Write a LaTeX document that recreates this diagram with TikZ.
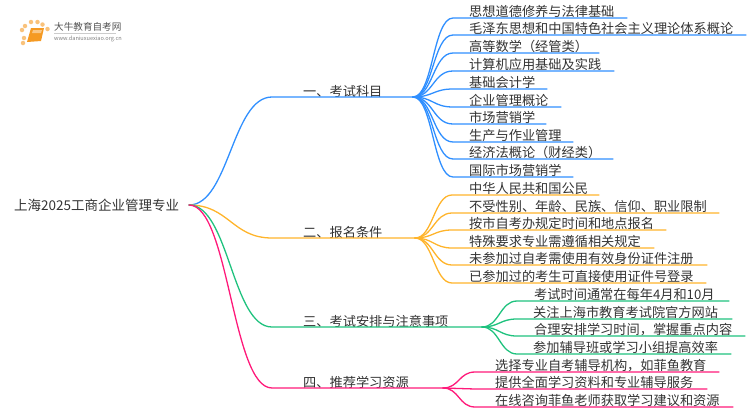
\documentclass[tikz,border=0pt]{standalone}
\usepackage{fontspec}
\setmainfont{Noto Sans CJK SC}
\definecolor{kmblue}{HTML}{2F8FFF}
\definecolor{bmorange}{HTML}{FFB42B}
\definecolor{apgreen}{HTML}{1FC27E}
\definecolor{zypink}{HTML}{FF1A7A}
\definecolor{txtgray}{HTML}{333333}
\definecolor{bookorange}{HTML}{F59A23}

\begin{document}
\begin{tikzpicture}[x=1pt,y=-1pt,
  wire/.style={line width=1.3pt,line cap=round},
  lbl/.style={anchor=west,inner sep=0pt,text=txtgray,font=\fontsize{13.2}{15}\selectfont},
  sun/.style={fill=bookorange!60,draw=none,circle,inner sep=0pt,minimum size=4.5pt}]
  \useasboundingbox (0,0) rectangle (750,410);

  % logo
  \foreach \x/\y in {25/26,31/22,37.5/22,42.5/24.5,47.5/29,22/30,24/38,23/43}
    \node[sun] at (\x,\y) {};
  \fill[bookorange] (31,28) -- (44,28) -- (41,41) -- (27,42) -- cycle;
  \fill[bookorange!55] (33,30) -- (42,30) -- (41,33) -- (32,33) -- cycle;
  \node[anchor=west,inner sep=0pt,text=txtgray!85,font=\fontsize{9.6}{11}\selectfont] (logoname) at (54,27) {大牛教育自考网};
  \node[anchor=west,inner sep=0pt,text=gray,font=\fontsize{5.6}{7}\selectfont] (logourl) at (54,38.5) {www.daniuxuexiao.org.cn};
  \draw[gray!40,line width=.6pt] (logoname.south west)++(0,1.5) -- +(62,0);

  % root
  \node[lbl,font=\fontsize{13.5}{15}\selectfont] (root) at (14,205.5) {上海2025工商企业管理专业};
  \coordinate (rootend) at (189,205);

  % branch 1
  \begin{scope}[wire/.append style={draw=kmblue}]
    \coordinate (kmin) at (272,97);
    \coordinate (kmout) at (413,97);
    \node[lbl] (km) at (303,91) {一、考试科目};
    \draw[wire] (rootend) .. controls +(40,0) and +(-40,0) .. (kmin) -- (kmout);
    \foreach \y/\xe/\t [count=\n] in {18/627/思想道德修养与法律基础,35/746/毛泽东思想和中国特色社会主义理论体系概论,53/599/高等数学（经管类）,71/614/计算机应用基础及实践,89/547/基础会计学,107/561/企业管理概论,124/546/市场营销学,142/573/生产与作业管理,159/613/经济法概论（财经类）,177/573/国际市场营销学}{
      \coordinate (kma\n) at (453,\y);
      \coordinate (kmb\n) at (\xe,\y);
      \node[lbl] (kmt\n) at (469,\y-6.5) {\t};
      \draw[wire] (kmout) .. controls +(20,0) and +(-20,0) .. (kma\n) -- (kmb\n);
    }
  \end{scope}

  % branch 2
  \begin{scope}[wire/.append style={draw=bmorange}]
    \coordinate (bmin) at (272,238);
    \coordinate (bmout) at (415,238);
    \node[lbl] (bm) at (303,232) {二、报名条件};
    \draw[wire] (rootend) .. controls +(40,0) and +(-40,0) .. (bmin) -- (bmout);
    \foreach \y/\xe/\t [count=\n] in {195/599/中华人民共和国公民,213/719/不受性别、年龄、民族、信仰、职业限制,230/666/按市自考办规定时间和地点报名,248/654/特殊要求专业需遵循相关规定,265/707/未参加过自考需使用有效身份证件注册,283/706/已参加过的考生可直接使用证件号登录}{
      \coordinate (bma\n) at (452,\y);
      \coordinate (bmb\n) at (\xe,\y);
      \node[lbl] (bmt\n) at (469,\y-6.5) {\t};
      \draw[wire] (bmout) .. controls +(18,0) and +(-18,0) .. (bma\n) -- (bmb\n);
    }
  \end{scope}

  % branch 3
  \begin{scope}[wire/.append style={draw=apgreen}]
    \coordinate (apin) at (272,327);
    \coordinate (apout) at (482,327);
    \node[lbl] (ap) at (303,321) {三、考试安排与注意事项};
    \draw[wire] (rootend) .. controls +(40,0) and +(-40,0) .. (apin) -- (apout);
    \foreach \y/\xe/\tx/\t [count=\n] in {301/729/534/考试时间通常在每年4月和10月,319/732/533/关注上海市教育考试院官方网站,336/745/534/{合理安排学习时间，掌握重点内容},354/731/533/参加辅导班或学习小组提高效率}{
      \coordinate (apa\n) at (517,\y);
      \coordinate (apb\n) at (\xe,\y);
      \node[lbl] (apt\n) at (\tx,\y-6.5) {\t};
      \draw[wire] (apout) .. controls +(17,0) and +(-17,0) .. (apa\n) -- (apb\n);
    }
  \end{scope}

  % branch 4
  \begin{scope}[wire/.append style={draw=zypink}]
    \coordinate (zyin) at (272,388);
    \coordinate (zyout) at (443,388);
    \node[lbl] (zy) at (303,382) {四、推荐学习资源};
    \draw[wire] (rootend) .. controls +(40,0) and +(-40,0) .. (zyin) -- (zyout);
    \foreach \y/\xe/\t [count=\n] in {372/719/{选择专业自考辅导机构，如菲鱼教育},389/707/提供全面学习资料和专业辅导服务,407/733/在线咨询菲鱼老师获取学习建议和资源}{
      \coordinate (zya\n) at (475,\y);
      \coordinate (zyb\n) at (\xe,\y);
      \node[lbl] (zyt\n) at (495,\y-6.5) {\t};
      \draw[wire] (zyout) .. controls +(16,0) and +(-16,0) .. (zya\n) -- (zyb\n);
    }
  \end{scope}
\end{tikzpicture}
\end{document}
